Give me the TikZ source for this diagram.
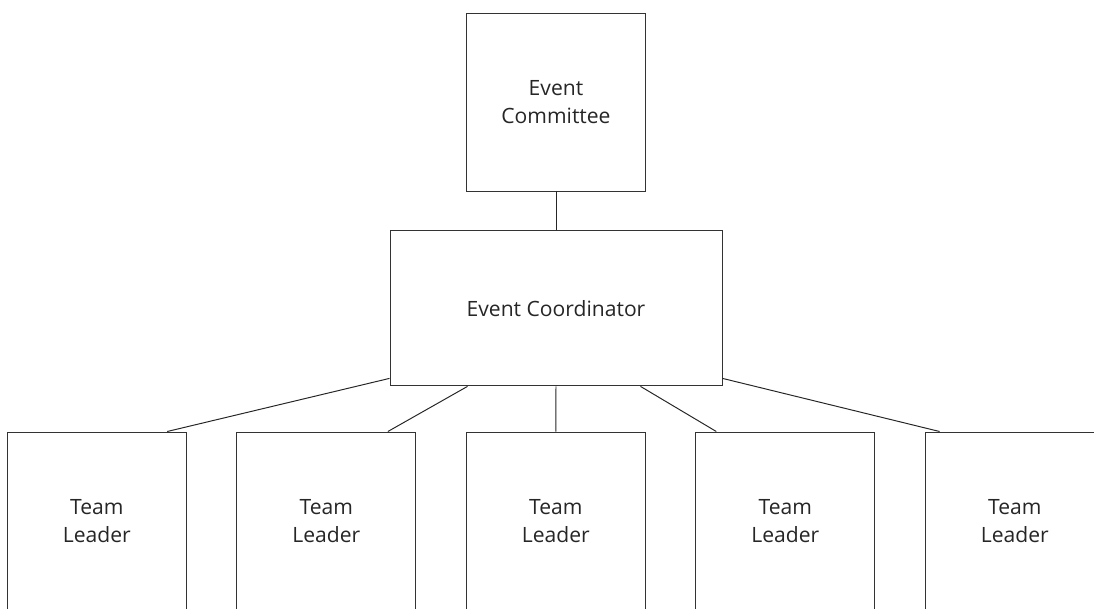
\documentclass[tikz,border=0pt]{standalone}
\usepackage{fontspec}
\setmainfont{Open Sans}
\usetikzlibrary{positioning}

\begin{document}
\begin{tikzpicture}[
    box/.style={draw=black!80,line width=0.7pt,align=center,text=black!85,
                font=\fontsize{15}{20}\selectfont,inner sep=0pt},
    link/.style={draw=black!85,line width=0.7pt}]
  \useasboundingbox (0,0) rectangle (27.35,15.2);

  % top of the chart
  \node[box,minimum width=4.475cm,minimum height=4.45cm] (comm) at (13.9,12.65) {Event\\Committee};
  \node[box,minimum width=8.3cm,minimum height=3.875cm] (coord) at (13.9,7.49) {Event Coordinator};
  \draw[link] (comm.south) -- (coord.north);

  % row of team leaders
  \foreach \i in {1,...,5} {
      \node[box,minimum width=4.475cm,minimum height=4.45cm] (t\i) at ({2.42+(\i-1)*5.7375},2.175) {Team\\Leader};
  }

  % connectors from the coordinator down to each leader
  \draw[link] ([yshift=0.2cm]coord.south west) -- ([xshift=-0.49cm]t1.north east);
  \draw[link] ([xshift=1.95cm]coord.south west) -- ([xshift=-0.71cm]t2.north east);
  \draw[link] (coord.south) -- (t3.north);
  \draw[link] ([xshift=-2.05cm]coord.south east) -- ([xshift=0.525cm]t4.north west);
  \draw[link] ([yshift=0.2cm]coord.south east) -- ([xshift=0.37cm]t5.north west);
\end{tikzpicture}
\end{document}
